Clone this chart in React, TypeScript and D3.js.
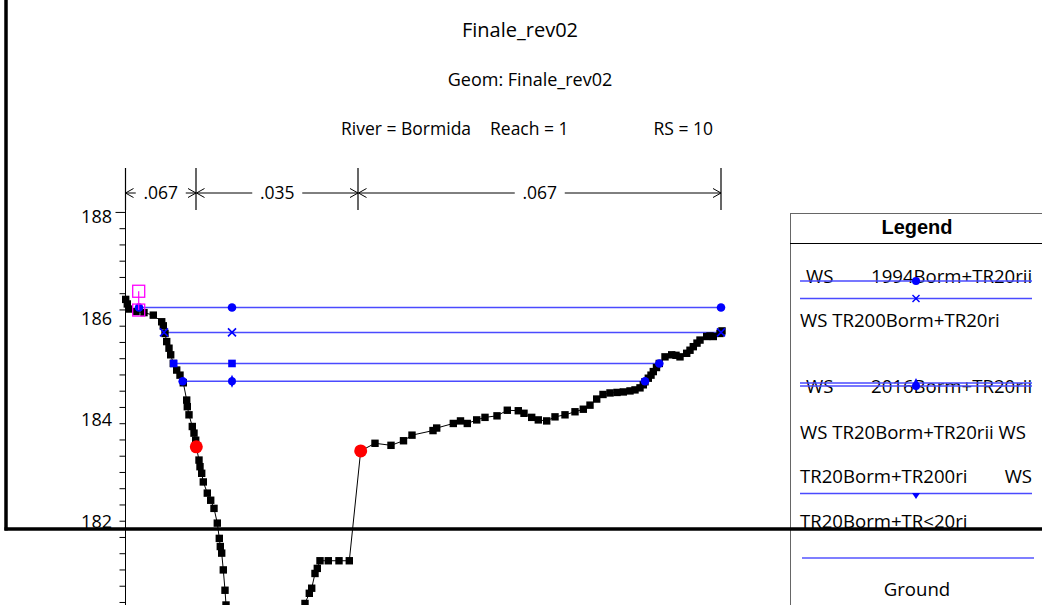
import React from 'react';
import * as d3 from 'd3';

// ---------- data ----------
const groundStation = [
  0.14, 0.46, 0.86, 2.2, 3.8, 5.66, 7.34, 7.66, 8.0, 8.34, 8.8, 9.14, 9.66, 10.34, 11.0, 11.66,
  12.34, 12.46, 12.8, 13.46, 13.8, 14.14, 14.26, 14.8, 15.0, 15.34, 15.66, 16.46, 17.14, 17.8,
  18.46, 18.86, 19.06, 19.34, 19.66, 20.0, 20.2, 20.6, 21.5, 24, 28, 32, 35,
  36.0, 36.86, 37.34, 38.0, 38.46, 39.0, 40.66, 42.8, 44.86, 47.14,
  50.0, 53.2, 55.7, 57.4, 61.6, 62.34, 65.66, 67.1, 68.46, 70.34, 72.0, 74.4, 76.46, 78.66,
  79.8, 81.34, 82.66, 84.34, 86.0, 88.0, 90.0, 91.66, 93.0, 94.34, 95.6, 97.0, 98.4, 99.66, 101.0, 102.0,
  103.0, 103.66, 104.0, 104.66, 105.2, 105.66, 106.3, 106.86, 108.0, 109.34, 110.2, 111.0, 112.34, 113.0, 113.66, 114.4, 115.0, 116.34,
  117.0, 117.66, 119.0, 119.4,
];
const groundElev = [
  186.37, 186.28, 186.18, 186.13, 186.11, 186.06, 185.93, 185.85, 185.70, 185.54, 185.41, 185.28,
  185.11, 184.98, 184.88, 184.73, 184.39, 184.26, 184.10, 183.87, 183.74, 183.60, 183.47, 183.21,
  183.08, 182.95, 182.78, 182.56, 182.42, 182.26, 181.97, 181.67, 181.51, 181.38, 181.05, 180.65,
  180.36, 180.0, 179.6, 179.3, 179.2, 179.5, 180.1,
  180.39, 180.59, 180.69, 180.98, 181.08, 181.23, 181.23, 181.23, 181.23, 183.39,
  183.54, 183.50, 183.59, 183.70, 183.79, 183.84, 183.93, 183.98, 183.93, 184.00, 184.05, 184.08,
  184.19, 184.18, 184.13, 184.05, 184.00, 183.98, 184.06, 184.10, 184.16, 184.21, 184.29, 184.41,
  184.50, 184.53, 184.54, 184.55, 184.57, 184.59,
  184.63, 184.69, 184.75, 184.82, 184.88, 184.95, 185.03, 185.11, 185.24, 185.28, 185.27, 185.24,
  185.31, 185.37, 185.44, 185.51, 185.57, 185.64, 185.65, 185.64, 185.70, 185.75,
];
const bankStation = [14.26, 47.14];
const bankElev = [183.47, 183.39];

const wsElev = [186.21, 185.72, 185.11, 184.76];
const wsLeft = [2.8, 7.8, 9.74, 11.54];
const wsRight = [119.2, 119.2, 106.86, 104.0];
const wsLeftMarker = ['circle', 'x', 'square', 'circle'];
const wsMidMarker = ['circle', 'x', 'square', 'circleDiamond'];
const wsRightMarker = ['circle', 'xsquare', 'circle', 'circle'];
const wsMidStation = 21.4;

const leveeStation = 2.74;
const leveeElev = [186.53, 186.16];

const nValues = ['.067', '.035', '.067'];
const nBreaks = [0, 14.2, 46.6, 119.2];

const yLabelTicks = [188, 186, 184, 182];
const minorTickStart = 188.08;
const minorTickStep = 0.3196;
const minorTickCount = 25;

const titleText = 'Finale_rev02';
const geomText = 'Geom: Finale_rev02';
const riverText = 'River = Bormida';
const reachText = 'Reach = 1';
const rsText = 'RS = 10';

// ---------- layout ----------
const W = 1042;
const H = 605;
const x = d3.scaleLinear().domain([0, 130]).range([125, 775]);
const y = d3.scaleLinear().domain([188, 182]).range([216.5, 521.6]);
const AXIS_X = 125.5;
const FONT = "'Open Sans', 'DejaVu Sans', sans-serif";
const WS_LINE = '#4a4aff';
const BLUE = '#0000ff';

function Marker({ type, cx, cy }: { type: string; cx: number; cy: number }) {
  if (type === 'circle') return <circle cx={cx} cy={cy} r={4.3} fill={BLUE} />;
  if (type === 'square') return <rect x={cx - 3.8} y={cy - 3.8} width={7.6} height={7.6} fill={BLUE} />;
  if (type === 'x' || type === 'xsquare')
    return (
      <g stroke={BLUE} strokeWidth={1.6}>
        {type === 'xsquare' && <rect x={cx - 3.5} y={cy - 3.5} width={7} height={7} fill="#000" stroke="none" />}
        <line x1={cx - 4} y1={cy - 4} x2={cx + 4} y2={cy + 4} />
        <line x1={cx - 4} y1={cy + 4} x2={cx + 4} y2={cy - 4} />
      </g>
    );
  if (type === 'circleDiamond')
    return (
      <g fill={BLUE}>
        <circle cx={cx} cy={cy} r={4} />
        <path d={`M${cx},${cy - 6.5} L${cx + 3},${cy} L${cx},${cy + 6.5} L${cx - 3},${cy} Z`} />
      </g>
    );
  return null;
}

export default function App() {
  const groundPts: [number, number][] = groundStation.map((s, i) => [x(s), y(groundElev[i])]);
  const groundLine = d3.line()(groundPts) || '';
  const axisTop = 168;

  const minorTicks = d3.range(minorTickCount).map((k) => minorTickStart - k * minorTickStep);

  const nY = 193;
  const arrow = (tipX: number, dir: number, key: string) => (
    <path
      key={key}
      d={`M${tipX + dir * 8},${nY - 4.5} L${tipX},${nY} L${tipX + dir * 8},${nY + 4.5}`}
      fill="none"
      stroke="#000"
      strokeWidth={1}
    />
  );

  const SQ = 7.4;

  return (
    <svg
      width={W}
      height={H}
      style={{ position: 'absolute', left: 0, top: 0, background: '#fff' }}
      fontFamily={FONT}
    >
      <rect x={0} y={0} width={W} height={H} fill="#fff" />
      {/* titles */}
      <text x={520} y={37} textAnchor="middle" fontSize={20} fill="#000">{titleText}</text>
      <text x={530} y={86} textAnchor="middle" fontSize={18} fill="#000">{geomText}</text>
      <text x={341} y={135} fontSize={17.5} fill="#000">{riverText}</text>
      <text x={490} y={135} fontSize={17.5} fill="#000">{reachText}</text>
      <text x={713} y={135} textAnchor="end" fontSize={17.5} fill="#000">{rsText}</text>

      {/* y axis */}
      <line x1={AXIS_X} y1={axisTop} x2={AXIS_X} y2={H} stroke="#000" strokeWidth={1} />
      {minorTicks.map((t, i) => (
        <line key={'mt' + i} x1={AXIS_X - (i === 0 ? 10 : 6)} x2={AXIS_X} y1={y(t)} y2={y(t)} stroke="#000" strokeWidth={1} />
      ))}
      {yLabelTicks.map((t) => (
        <text key={'yl' + t} x={112} y={y(t)} dy="0.36em" textAnchor="end" fontSize={18} fill="#000">
          {t}
        </text>
      ))}

      {/* Manning's n */}
      {nBreaks.map((b, i) => (
        <line key={'nb' + i} x1={x(b) + (i === 0 ? 0.5 : 0)} x2={x(b) + (i === 0 ? 0.5 : 0)} y1={168} y2={210} stroke="#000" strokeWidth={1.2} />
      ))}
      {nValues.map((v, i) => {
        const x1 = x(nBreaks[i]) + 0.5;
        const x2 = x(nBreaks[i + 1]);
        const cx = (x1 + x2) / 2;
        const tw = 34;
        const elems = [arrow(x1, 1, 'al' + i), arrow(x2, -1, 'ar' + i)];
        const l1 = cx - tw / 2 - 8;
        const l2 = cx + tw / 2 + 8;
        return (
          <g key={'nv' + i}>
            {elems}
            {l1 > x1 + 2 && <line x1={x1} x2={l1} y1={nY} y2={nY} stroke="#000" />}
            {l2 < x2 - 2 && <line x1={l2} x2={x2} y1={nY} y2={nY} stroke="#000" />}
            <text x={cx} y={nY} dy="0.36em" textAnchor="middle" fontSize={17.5} fill="#000">{v}</text>
          </g>
        );
      })}

      {/* water surfaces */}
      {wsElev.map((e, i) => (
        <line key={'ws' + i} x1={x(wsLeft[i])} x2={x(wsRight[i])} y1={y(e)} y2={y(e)} stroke={WS_LINE} strokeWidth={1.6} />
      ))}

      {/* ground */}
      <path d={groundLine} fill="none" stroke="#000" strokeWidth={1} />
      {groundPts.map(([px, py], i) => (
        <rect key={'g' + i} x={px - SQ / 2} y={py - SQ / 2} width={SQ} height={SQ} fill="#000" />
      ))}

      {/* WS markers */}
      {wsElev.map((e, i) => (
        <g key={'wm' + i}>
          <Marker type={wsLeftMarker[i]} cx={x(wsLeft[i])} cy={y(e)} />
          <Marker type={wsMidMarker[i]} cx={x(wsMidStation)} cy={y(e)} />
          <Marker type={wsRightMarker[i]} cx={x(wsRight[i])} cy={y(e)} />
        </g>
      ))}

      {/* levee / ineffective markers */}
      <line x1={x(leveeStation)} x2={x(leveeStation)} y1={y(leveeElev[0])} y2={y(leveeElev[1])} stroke="#ff00ff" strokeWidth={1.2} />
      {leveeElev.map((e, i) => (
        <rect key={'lv' + i} x={x(leveeStation) - 6} y={y(e) - 6} width={12} height={12} fill="none" stroke="#ff00ff" strokeWidth={1.3} />
      ))}

      {/* bank stations */}
      {bankStation.map((s, i) => (
        <circle key={'bk' + i} cx={x(s)} cy={y(bankElev[i])} r={6.5} fill="#ff0000" />
      ))}

      {/* legend */}
      <g>
        <rect x={790.5} y={213.5} width={300} height={420} fill="#fff" stroke="#666" strokeWidth={1} />
        <line x1={790} x2={W} y1={243.5} y2={243.5} stroke="#000" strokeWidth={1} />
        <text x={917} y={234} textAnchor="middle" fontSize={20} fontWeight="bold" fontFamily="'Liberation Sans', Arial, sans-serif" fill="#000">
          Legend
        </text>
        <g fontSize={18.6} fill="#000">
          <text x={806} y={283}>WS</text>
          <text x={871} y={283}>1994Borm+TR20rii</text>
          <text x={800} y={327}>WS TR200Borm+TR20ri</text>
          <text x={806} y={393}>WS</text>
          <text x={871} y={393}>2016Borm+TR20rii</text>
          <text x={800} y={439}>WS TR20Borm+TR20rii WS</text>
          <text x={800} y={483}>TR20Borm+TR200ri</text>
          <text x={1032} y={483} textAnchor="end">WS</text>
          <text x={800} y={528}>TR20Borm+TR&lt;20ri</text>
          <text x={917} y={596} textAnchor="middle">Ground</text>
        </g>
        <line x1={800} x2={1032} y1={281} y2={281} stroke={WS_LINE} strokeWidth={1.4} />
        <circle cx={916} cy={281} r={4} fill={BLUE} />
        <line x1={800} x2={1032} y1={298.5} y2={298.5} stroke={WS_LINE} strokeWidth={1.4} />
        <g stroke={BLUE} strokeWidth={1.4}>
          <line x1={912.5} y1={295} x2={919.5} y2={302} />
          <line x1={912.5} y1={302} x2={919.5} y2={295} />
        </g>
        <line x1={800} x2={1032} y1={383} y2={383} stroke={WS_LINE} strokeWidth={1.3} />
        <line x1={800} x2={1032} y1={386} y2={386} stroke={WS_LINE} strokeWidth={1.3} />
        <path d="M916,378 L919,384 L913,384 Z" fill={BLUE} />
        <circle cx={916} cy={386} r={4} fill={BLUE} />
        <line x1={800} x2={1032} y1={493.5} y2={493.5} stroke={WS_LINE} strokeWidth={1.4} />
        <path d="M912,493 L920,493 L916,499 Z" fill={BLUE} />
        <line x1={802} x2={1034} y1={558} y2={558} stroke={BLUE} strokeWidth={1.2} />
      </g>

      {/* overlaid frame */}
      <line x1={6} x2={6} y1={0} y2={530.5} stroke="#000" strokeWidth={3.5} />
      <line x1={4.5} x2={W} y1={529} y2={529} stroke="#000" strokeWidth={3.5} />
    </svg>
  );
}
